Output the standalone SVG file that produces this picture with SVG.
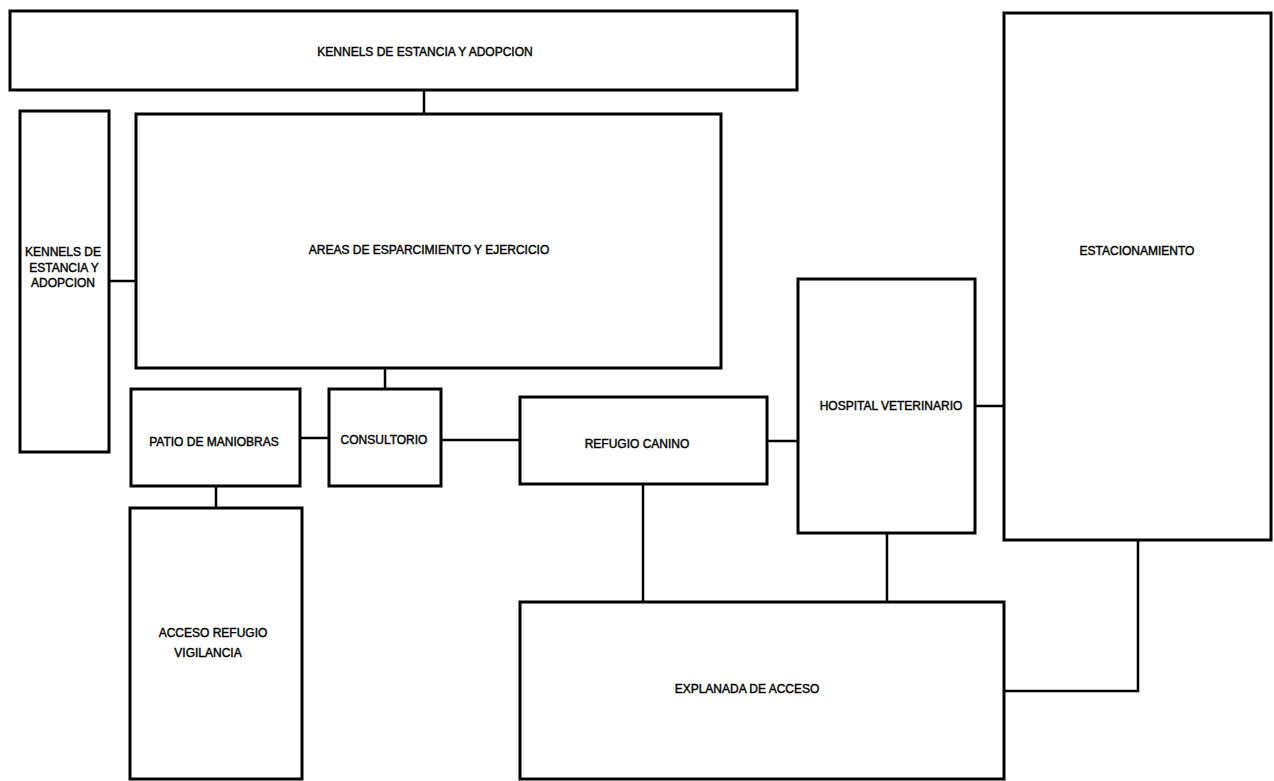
<svg xmlns="http://www.w3.org/2000/svg" width="1274" height="781" viewBox="0 0 1274 781">
<style>
.box{fill:#fff;stroke:#000;stroke-width:3}
.con{fill:none;stroke:#000;stroke-width:2.5}
text{font-family:"Liberation Sans",Arial,sans-serif;font-size:12px;fill:#000;stroke:#000;stroke-width:0.4;text-anchor:middle}
</style>
<rect width="1274" height="781" fill="#fff"/>
<g id="connectors">
<line class="con" x1="424" y1="90" x2="424" y2="113"/>
<line class="con" x1="109" y1="281" x2="136" y2="281"/>
<line class="con" x1="385" y1="368" x2="385" y2="389"/>
<line class="con" x1="300" y1="438" x2="329" y2="438"/>
<line class="con" x1="441" y1="440" x2="520" y2="440"/>
<line class="con" x1="216" y1="486" x2="216" y2="508"/>
<line class="con" x1="767" y1="441" x2="798" y2="441"/>
<line class="con" x1="975" y1="406" x2="1004" y2="406"/>
<line class="con" x1="643" y1="484" x2="643" y2="602"/>
<line class="con" x1="887" y1="533" x2="887" y2="602"/>
<polyline class="con" points="1138,540 1138,691 1004,691"/>
</g>
<g id="kennels-top">
<rect class="box" x="10" y="11" width="787" height="79"/>
<text x="425" y="56">KENNELS DE ESTANCIA Y ADOPCION</text>
</g>
<g id="kennels-left">
<rect class="box" x="20" y="111" width="89" height="341"/>
<text x="63" y="256">KENNELS DE</text>
<text x="64" y="272">ESTANCIA Y</text>
<text x="63" y="287">ADOPCION</text>
</g>
<g id="areas">
<rect class="box" x="136" y="114" width="585" height="254"/>
<text x="429" y="254">AREAS DE ESPARCIMIENTO Y EJERCICIO</text>
</g>
<g id="patio">
<rect class="box" x="131" y="389" width="169" height="97"/>
<text x="214" y="446">PATIO DE MANIOBRAS</text>
</g>
<g id="consultorio">
<rect class="box" x="329" y="389" width="112" height="97"/>
<text x="384" y="444">CONSULTORIO</text>
</g>
<g id="acceso">
<rect class="box" x="130" y="508" width="172" height="271"/>
<text x="213" y="637">ACCESO REFUGIO</text>
<text x="208" y="657">VIGILANCIA</text>
</g>
<g id="refugio">
<rect class="box" x="520" y="397" width="247" height="87"/>
<text x="637" y="448">REFUGIO CANINO</text>
</g>
<g id="hospital">
<rect class="box" x="798" y="279" width="177" height="254"/>
<text x="891" y="410">HOSPITAL VETERINARIO</text>
</g>
<g id="estacionamiento">
<rect class="box" x="1004" y="13" width="267" height="527"/>
<text x="1137" y="255">ESTACIONAMIENTO</text>
</g>
<g id="explanada">
<rect class="box" x="520" y="602" width="484" height="177"/>
<text x="747" y="693">EXPLANADA DE ACCESO</text>
</g>
</svg>
